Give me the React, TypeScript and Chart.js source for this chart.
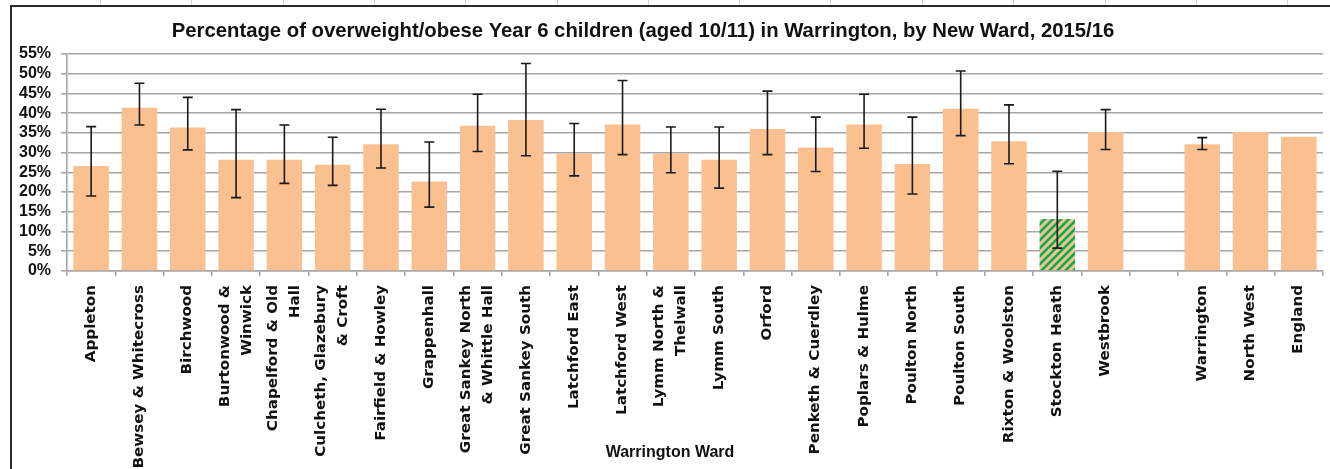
import React, { useEffect, useRef } from "react";
import { Chart, registerables } from "chart.js";

Chart.register(...registerables);

const CHART_TITLE =
  "Percentage of overweight/obese Year 6 children (aged 10/11) in Warrington, by New Ward, 2015/16";
const X_TITLE = "Warrington Ward";

const wardLabels: (string | string[])[] = [
  "Appleton",
  "Bewsey & Whitecross",
  "Birchwood",
  ["Burtonwood &", "Winwick"],
  ["Chapelford & Old", "Hall"],
  ["Culcheth, Glazebury", "& Croft"],
  "Fairfield & Howley",
  "Grappenhall",
  ["Great Sankey North", "& Whittle Hall"],
  "Great Sankey South",
  "Latchford East",
  "Latchford West",
  ["Lymm North &", "Thelwall"],
  "Lymm South",
  "Orford",
  "Penketh & Cuerdley",
  "Poplars & Hulme",
  "Poulton North",
  "Poulton South",
  "Rixton & Woolston",
  "Stockton Heath",
  "Westbrook",
  "",
  "Warrington",
  "North West",
  "England",
];

const percentValues: (number | null)[] = [
  26.6, 41.4, 36.4, 28.2, 28.2, 26.9, 32.1, 22.7, 36.8, 38.3, 29.8, 37.1, 29.8,
  28.2, 36.0, 31.3, 37.1, 27.1, 41.1, 32.9, 13.2, 35.2, null, 32.1, 35.2, 34.0,
];

const ciLower: (number | null)[] = [
  19.0, 37.0, 30.7, 18.6, 22.2, 21.7, 26.1, 16.2, 30.3, 29.2, 24.1, 29.5, 24.9,
  21.0, 29.5, 25.2, 31.1, 19.5, 34.3, 27.2, 5.8, 30.8, null, 30.8, null, null,
];

const ciUpper: (number | null)[] = [
  36.6, 47.6, 44.0, 40.9, 37.0, 33.9, 41.0, 32.7, 44.8, 52.6, 37.4, 48.3, 36.5,
  36.5, 45.6, 39.0, 44.8, 39.0, 50.7, 42.1, 25.3, 40.9, null, 33.8, null, null,
];

const highlightLabel = "Stockton Heath";

const yTickMax = 55;
const yTickStep = 5;

const BAR_COLOR = "#FAC090";
const STRIPE_COLOR = "#00B050";
const GRID_COLOR = "#a6a6a6";
const TEXT_COLOR = "#111111";

function makeStripePattern(ctx: CanvasRenderingContext2D): CanvasPattern | string {
  const size = 8;
  const c = document.createElement("canvas");
  c.width = size;
  c.height = size;
  const p = c.getContext("2d");
  if (!p) return BAR_COLOR;
  p.fillStyle = BAR_COLOR;
  p.fillRect(0, 0, size, size);
  p.strokeStyle = STRIPE_COLOR;
  p.lineWidth = 2.6;
  p.beginPath();
  p.moveTo(-2, size + 2);
  p.lineTo(size + 2, -2);
  p.moveTo(-2, 2);
  p.lineTo(2, -2);
  p.moveTo(size - 2, size + 2);
  p.lineTo(size + 2, size - 2);
  p.stroke();
  return ctx.createPattern(c, "repeat") || BAR_COLOR;
}

const errorBarPlugin = {
  id: "errorBars",
  afterDatasetsDraw(chart: any) {
    const ctx = chart.ctx as CanvasRenderingContext2D;
    const meta = chart.getDatasetMeta(0);
    const yScale = chart.scales.y;
    ctx.save();
    ctx.strokeStyle = "#1a1a1a";
    ctx.lineWidth = 1.6;
    meta.data.forEach((bar: any, i: number) => {
      const lo = ciLower[i];
      const hi = ciUpper[i];
      if (lo == null || hi == null) return;
      const x = bar.x;
      const yTop = yScale.getPixelForValue(hi);
      const yBot = yScale.getPixelForValue(lo);
      const cap = 5;
      ctx.beginPath();
      ctx.moveTo(x, yTop);
      ctx.lineTo(x, yBot);
      ctx.moveTo(x - cap, yTop);
      ctx.lineTo(x + cap, yTop);
      ctx.moveTo(x - cap, yBot);
      ctx.lineTo(x + cap, yBot);
      ctx.stroke();
    });
    ctx.restore();
  },
};

const xLabelPlugin = {
  id: "xLabels",
  afterDraw(chart: any) {
    const ctx = chart.ctx as CanvasRenderingContext2D;
    const xScale = chart.scales.x;
    const top = xScale.top + 14;
    const lineH = 22;
    ctx.save();
    ctx.fillStyle = TEXT_COLOR;
    ctx.font = `bold 14px "DejaVu Sans", sans-serif`;
    ctx.textAlign = "right";
    ctx.textBaseline = "middle";
    wardLabels.forEach((label, i) => {
      const lines = Array.isArray(label) ? label : [label];
      const cx = xScale.getPixelForValue(i);
      lines.forEach((line, j) => {
        if (!line) return;
        const off = (j - (lines.length - 1) / 2) * lineH;
        ctx.save();
        ctx.translate(cx + off, top);
        ctx.rotate(-Math.PI / 2);
        ctx.scale(1.08, 1);
        ctx.fillText(line, 0, 0);
        ctx.restore();
      });
    });
    ctx.restore();
  },
};

const titlesPlugin = {
  id: "customTitles",
  afterDraw(chart: any) {
    const ctx = chart.ctx as CanvasRenderingContext2D;
    ctx.save();
    ctx.fillStyle = TEXT_COLOR;
    ctx.textAlign = "center";
    ctx.textBaseline = "middle";
    const base = 18;
    ctx.font = `bold ${base}px "Liberation Sans", Arial, sans-serif`;
    const w = ctx.measureText(CHART_TITLE).width;
    const size = (base * 943) / w;
    ctx.font = `bold ${size.toFixed(2)}px "Liberation Sans", Arial, sans-serif`;
    ctx.fillText(CHART_TITLE, 643, 31);
    ctx.font = `bold 16px "Liberation Sans", Arial, sans-serif`;
    ctx.fillText(X_TITLE, 670, 453);
    ctx.restore();
  },
};

const sheetColumnLines = [100, 191, 283, 374, 465, 557, 648, 739, 830, 922, 1013, 1105, 1196, 1287];

export default function App() {
  const canvasRef = useRef<HTMLCanvasElement | null>(null);

  useEffect(() => {
    const canvas = canvasRef.current;
    if (!canvas) return;
    const ctx = canvas.getContext("2d");
    if (!ctx) return;
    const pattern = makeStripePattern(ctx);
    const colors = wardLabels.map((l) =>
      (Array.isArray(l) ? l.join(" ") : l) === highlightLabel ? pattern : BAR_COLOR
    );

    const chart = new Chart(ctx, {
      type: "bar",
      data: {
        labels: wardLabels as any,
        datasets: [
          {
            data: percentValues,
            backgroundColor: colors as any,
            borderWidth: 0,
            categoryPercentage: 1,
            barPercentage: 0.735,
          },
        ],
      },
      options: {
        animation: false,
        responsive: false,
        devicePixelRatio: 1,
        layout: { padding: { top: 54, left: 0, right: 7, bottom: 0 } },
        plugins: {
          legend: { display: false },
          title: { display: false },
          tooltip: { enabled: false },
        },
        scales: {
          y: {
            min: 0,
            max: yTickMax,
            afterFit: (s: any) => {
              s.width = 67;
            },
            ticks: {
              stepSize: yTickStep,
              autoSkip: false,
              callback: (v: any) => `${v}%`,
              font: { family: '"Liberation Sans", Arial, sans-serif', size: 16, weight: "bold" },
              color: TEXT_COLOR,
              padding: 10,
            },
            grid: {
              color: GRID_COLOR,
              lineWidth: 1.6,
              tickLength: 6,
              drawTicks: true,
            },
            border: { display: true, color: GRID_COLOR, width: 1.6 },
          },
          x: {
            afterFit: (s: any) => {
              s.height = 198;
            },
            ticks: {
              display: false,
              autoSkip: false,
            },
            grid: {
              offset: true,
              drawOnChartArea: false,
              drawTicks: true,
              tickLength: 5,
              color: GRID_COLOR,
              lineWidth: 1.6,
            },
            border: { display: true, color: GRID_COLOR, width: 1.6 },
          },
        },
      },
      plugins: [errorBarPlugin, xLabelPlugin, titlesPlugin],
    });

    return () => {
      chart.destroy();
    };
  }, []);

  return (
    <div
      style={{
        position: "fixed",
        left: 0,
        top: 0,
        width: 1330,
        height: 469,
        background: "#ffffff",
        overflow: "hidden",
      }}
    >
      <canvas
        ref={canvasRef}
        width={1330}
        height={469}
        style={{ position: "absolute", left: 0, top: 0, width: 1330, height: 469 }}
      />
      {sheetColumnLines.map((x) => (
        <div
          key={x}
          style={{
            position: "absolute",
            left: x,
            top: 0,
            width: 1,
            height: 5,
            background: "#d4d4d4",
          }}
        />
      ))}
      <div
        style={{
          position: "absolute",
          left: 10,
          top: 5,
          width: 1330,
          height: 2,
          background: "#2a2a2a",
        }}
      />
      <div
        style={{
          position: "absolute",
          left: 10,
          top: 5,
          width: 2,
          height: 469,
          background: "#2a2a2a",
        }}
      />
    </div>
  );
}
